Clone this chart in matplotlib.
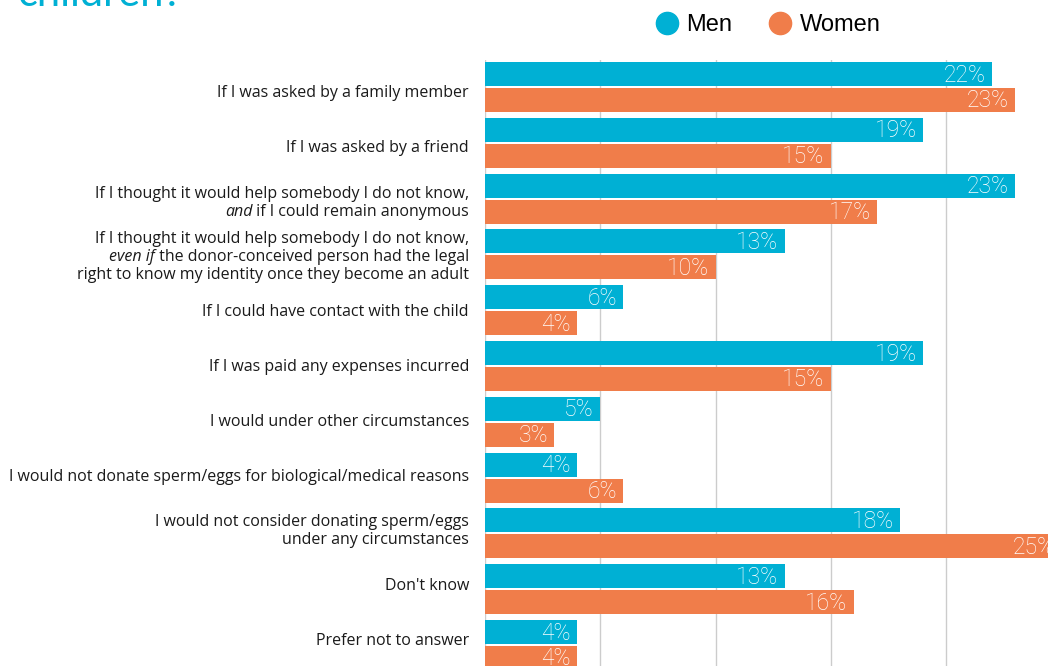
import matplotlib
matplotlib.use("Agg")
import matplotlib.pyplot as plt
from matplotlib.lines import Line2D
import numpy as np

# Survey answers, one row per option (top to bottom)
categories = [
    ["If I was asked by a family member"],
    ["If I was asked by a friend"],
    ["If I thought it would help somebody I do not know,",
     ("and", " if I could remain anonymous")],
    ["If I thought it would help somebody I do not know,",
     ("even if", " the donor-conceived person had the legal"),
     "right to know my identity once they become an adult"],
    ["If I could have contact with the child"],
    ["If I was paid any expenses incurred"],
    ["I would under other circumstances"],
    ["I would not donate sperm/eggs for biological/medical reasons"],
    ["I would not consider donating sperm/eggs",
     "under any circumstances"],
    ["Don't know"],
    ["Prefer not to answer"],
]
men = [22, 19, 23, 13, 6, 19, 5, 4, 18, 13, 4]
women = [23, 15, 17, 10, 4, 15, 3, 6, 25, 16, 4]
series_names = ["Men", "Women"]
ticks = [0, 5, 10, 15, 20, 25]

CYAN = "#00B0D4"
ORANGE = "#F07D4A"
LABEL_FONT = "Open Sans"
VALUE_FONT = "Roboto"
TITLE_FONT = "Lato"

W, H = 1048, 666
fig = plt.figure(figsize=(W / 100, H / 100), dpi=100)
ax = fig.add_axes([485 / W, 0, 1 - 485 / W, 1 - 60 / H])

n = len(categories)
idx = np.arange(n)
off = 0.232
bh = 0.43

ax.barh(idx - off, men, height=bh, color=CYAN, zorder=3, clip_on=True)
ax.barh(idx + off, women, height=bh, color=ORANGE, zorder=3, clip_on=True)

ax.set_xticks(ticks)
ax.set_yticks([])
ax.set_xlim(0, (W - 485) / 23.05)
ax.set_ylim((H - 87) / 55.8, -27 / 55.8)
ax.tick_params(axis="x", length=0, labelbottom=False)
ax.grid(axis="x", color="#cccccc", linewidth=1, zorder=0)
for s in ax.spines.values():
    s.set_visible(False)

# value labels inside the bar ends
for vals, dy in ((men, -off), (women, off)):
    for i, v in enumerate(vals):
        ax.annotate(f"{v}%", xy=(v, i + dy), xytext=(-4.5, -0.7),
                    textcoords="offset points", ha="right", va="center",
                    color="white", fontsize=16.5, family=VALUE_FONT,
                    fontweight="light", zorder=4, annotation_clip=False,
                    clip_on=True)

# category labels, right aligned left of the axis, with italic lead-ins
label_x = 469 / W
row_top, row_step, line_px = 93, 54.8, 18
for i, lines in enumerate(categories):
    k = len(lines)
    for j, line in enumerate(lines):
        y = 1 - (row_top + row_step * i + (j - (k - 1) / 2) * line_px) / H
        if isinstance(line, tuple):
            ital, rest = line
            t = fig.text(label_x, y, rest, ha="right", va="center",
                         fontsize=11.5, family=LABEL_FONT, color="#1a1a1a")
            it = fig.text(0, y, ital, ha="right", va="center", fontsize=11.5,
                          family=LABEL_FONT, style="italic", color="#1a1a1a")
            # place the italic part just before the upright part
            fig.canvas.draw()
            bb = t.get_window_extent()
            it.set_position((bb.x0 / W, y))
        else:
            fig.text(label_x, y, line, ha="right", va="center",
                     fontsize=11.5, family=LABEL_FONT, color="#1a1a1a")

# title fragment at the top edge
fig.text(17 / W, 1 - 6 / H, "children?", color=CYAN, fontsize=30,
         family=TITLE_FONT, ha="left", va="baseline")

# legend
handles = [Line2D([], [], marker="o", linestyle="", markersize=16,
                  markerfacecolor=c, markeredgecolor=c)
           for c in (CYAN, ORANGE)]
fig.legend(handles, series_names, loc="center left",
           bbox_to_anchor=(655 / W, 1 - 25 / H), ncol=2, frameon=False,
           prop={"family": "Liberation Sans", "size": 17},
           handlelength=1.0, handletextpad=0.31, columnspacing=1.55,
           borderpad=0, borderaxespad=0)

fig.savefig("out.png", dpi=100)
